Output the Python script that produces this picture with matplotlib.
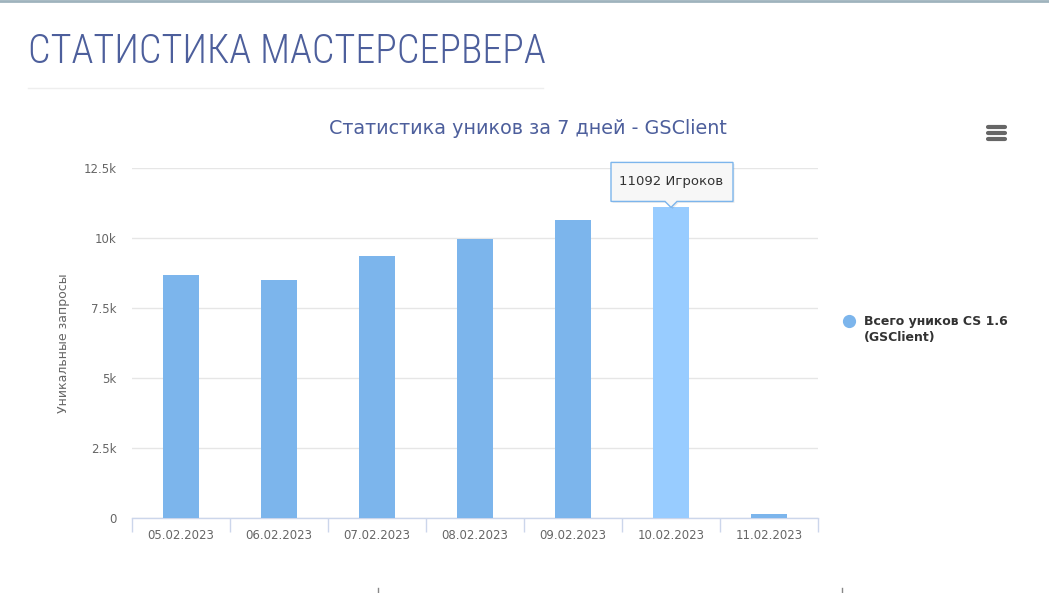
import numpy as np
import matplotlib
matplotlib.use("Agg")
import matplotlib.pyplot as plt
from matplotlib import font_manager
from matplotlib.patches import Polygon
from matplotlib.lines import Line2D
from matplotlib.transforms import ScaledTranslation

# data
dates = ['05.02.2023', '06.02.2023', '07.02.2023', '08.02.2023',
         '09.02.2023', '10.02.2023', '11.02.2023']
uniques = [8670, 8500, 9350, 9960, 10640, 11092, 140]
y_ticks = [0, 2500, 5000, 7500, 10000, 12500]
y_tick_labels = ['0', '2.5k', '5k', '7.5k', '10k', '12.5k']
hover_idx = 5

bar_color = '#7cb5ec'
hover_color = '#98ccff'
text_grey = '#666666'
title_blue = '#4d5f9c'

# a narrow face for the page heading, if one is installed
installed = {f.name for f in font_manager.fontManager.ttflist}
narrow = [n for n in ['Roboto Condensed', 'Liberation Sans Narrow', 'Open Sans Condensed',
                      'DejaVu Sans Condensed'] if n in installed]
head_family = narrow[0] if narrow else 'Roboto'
head_size = 28.7 if narrow else 25.5

W, H = 1049, 593
fig = plt.figure(figsize=(W / 100, H / 100), dpi=100)
fig.patch.set_facecolor('white')

# plot area in pixels: x 132..818, y 168..518
ax = fig.add_axes([132 / W, (H - 518) / H, (818 - 132) / W, (518 - 168) / H])
x = np.arange(len(dates))
colors = [hover_color if i == hover_idx else bar_color for i in x]
ax.bar(x, uniques, width=0.37, color=colors, zorder=3)

ax.set_xlim(-0.5, len(dates) - 0.5)
ax.set_ylim(0, 12500)
ax.set_yticks(y_ticks)
ax.set_yticklabels(y_tick_labels)
ax.set_xticks(x)
ax.set_xticklabels(dates)
ax.set_xticks(np.arange(len(dates) + 1) - 0.5, minor=True)

ax.tick_params(axis='y', length=0, pad=11, labelsize=8.5, labelcolor=text_grey)
ax.tick_params(axis='x', which='major', length=0, pad=8, labelsize=8.5, labelcolor=text_grey)
ax.tick_params(axis='x', which='minor', length=10, width=1, color='#ccd6eb')
ax.grid(axis='y', color='#e6e6e6', linewidth=1, zorder=0)
for s in ['top', 'right', 'left']:
    ax.spines[s].set_visible(False)
ax.spines['bottom'].set_color('#ccd6eb')
ax.spines['bottom'].set_linewidth(1)
ax.set_ylabel('Уникальные запросы', color=text_grey, fontsize=9, labelpad=10)

# tooltip over the hovered bar
trans = fig.dpi_scale_trans + ScaledTranslation(hover_idx, uniques[hover_idx], ax.transData)
box = np.array([(-60, 6), (-6, 6), (0, 0), (6, 6), (62, 6), (62, 45), (-60, 45)]) / 100
shadow = Polygon(box + np.array([0.015, -0.015]), closed=True, transform=trans,
                 facecolor='#000000', alpha=0.08, edgecolor='none', zorder=5, clip_on=False)
tip = Polygon(box, closed=True, transform=trans, facecolor='#f7f7f7',
              edgecolor='#7cb5ec', linewidth=1, zorder=6, clip_on=False)
fig.add_artist(shadow)
fig.add_artist(tip)
fig.text(0, 0.26, '11092 Игроков', transform=trans, ha='center', va='center',
         fontsize=9.5, color='#333333', zorder=7)

# headings
fig.text(28 / W, 1 - 52 / H, 'СТАТИСТИКА МАСТЕРСЕРВЕРА', ha='left', va='center',
         fontsize=head_size, fontweight='light', color=title_blue,
         family=[head_family, 'DejaVu Sans'])
fig.add_artist(Line2D([28 / W, 543 / W], [1 - 88 / H] * 2, color='#eeeeee', linewidth=1))
fig.add_artist(Line2D([0, 1], [1 - 1 / H] * 2, color='#9fb3bd', linewidth=2))
fig.text(528 / W, 1 - 129 / H, 'Статистика уников за 7 дней - GSClient', ha='center',
         va='center', fontsize=13.8, color=title_blue)

# legend
fig.add_artist(Line2D([849 / W], [1 - 321 / H], marker='o', markersize=8.5,
                      color=bar_color, linestyle='none'))
fig.text(864 / W, 1 - 330 / H, 'Всего уников CS 1.6\n(GSClient)', ha='left', va='center',
         fontsize=9, color='#333333', fontweight='bold', linespacing=1.3)

# menu icon
for yy in [127, 133, 139]:
    fig.add_artist(Line2D([988 / W, 1005 / W], [1 - yy / H] * 2, color='#666666',
                          linewidth=3, solid_capstyle='round'))

# fragments of the next block at the bottom
for xx in [378, 842]:
    fig.add_artist(Line2D([xx / W] * 2, [1 - 588 / H, 1 - 593 / H], color='#888888', linewidth=1))

fig.savefig('out.png', dpi=100, facecolor='white')
